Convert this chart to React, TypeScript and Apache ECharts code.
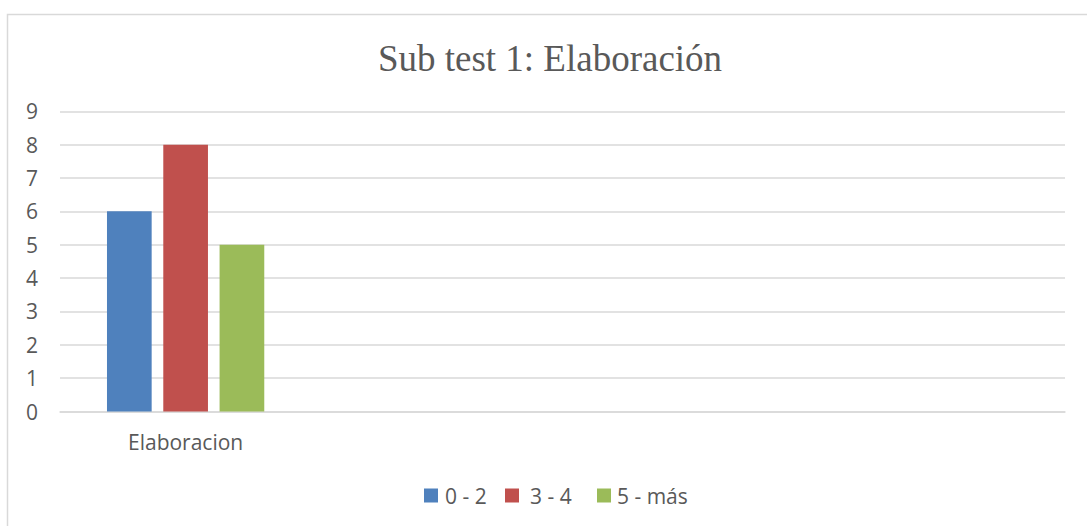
import React, { useEffect, useRef } from "react";
import * as echarts from "echarts";

const categories = ["Elaboracion", "", "", ""];
const seriesNames = ["0 - 2", "3 - 4", "5 - más"];
const values02 = [6, null, null, null];
const values34 = [8, null, null, null];
const values5mas = [5, null, null, null];
const yTicks = { min: 0, max: 9, interval: 1 };
const colors = ["#4f81bd", "#c0504d", "#9bbb59"];

export default function App() {
  const ref = useRef<HTMLDivElement>(null);
  useEffect(() => {
    if (!ref.current) return;
    const chart = echarts.init(ref.current, null, { renderer: "svg" });
    const font = "'Open Sans', sans-serif";
    const textColor = "#595959";
    const grid = "#d9d9d9";
    const seriesData = [values02, values34, values5mas];
    const legendLefts = [424, 505, 597];
    const legendPads = [2, 6, 1];
    chart.setOption({
      animation: false,
      backgroundColor: "#ffffff",
      color: colors,
      title: {
        text: "Sub test 1: Elaboración",
        left: 545,
        textAlign: "center",
        top: 35,
        textStyle: {
          fontFamily: "'Liberation Serif', 'Times New Roman', serif",
          fontSize: 37,
          fontWeight: "normal",
          color: textColor,
        },
      },
      graphic: [
        {
          type: "rect",
          shape: { x: 7.5, y: 14.5, width: 1200, height: 700 },
          style: { fill: "none", stroke: grid, lineWidth: 1.5 },
          silent: true,
        },
      ],
      legend: seriesNames.map((name, i) => ({
        data: [name],
        left: legendLefts[i],
        top: 485,
        padding: 0,
        itemWidth: 14,
        itemHeight: 14,
        icon: "rect",
        textStyle: {
          fontFamily: font,
          fontSize: 21,
          color: textColor,
          padding: [0, 0, 0, legendPads[i]],
        },
      })),
      grid: { left: 60, right: 22, top: 111.3, bottom: 114.5, containLabel: false },
      xAxis: {
        type: "category",
        data: categories,
        axisLine: { show: true, lineStyle: { color: grid, width: 1.5 } },
        axisTick: { show: false },
        axisLabel: { fontFamily: font, fontSize: 21, color: textColor, margin: 20 },
        splitLine: { show: false },
      },
      yAxis: {
        type: "value",
        min: yTicks.min,
        max: yTicks.max,
        interval: yTicks.interval,
        axisLine: { show: false },
        axisTick: { show: false },
        axisLabel: { fontFamily: font, fontSize: 21, color: textColor, margin: 22 },
        splitLine: { lineStyle: { color: grid, width: 1.5 } },
      },
      series: seriesNames.map((name, i) => ({
        name,
        type: "bar",
        data: seriesData[i],
        barCategoryGap: "37.4%",
        barGap: "26%",
        itemStyle: { color: colors[i] },
      })),
    });
    return () => chart.dispose();
  }, []);
  return (
    <div
      ref={ref}
      style={{ position: "fixed", left: 0, top: 0, width: 1087, height: 526 }}
    />
  );
}
